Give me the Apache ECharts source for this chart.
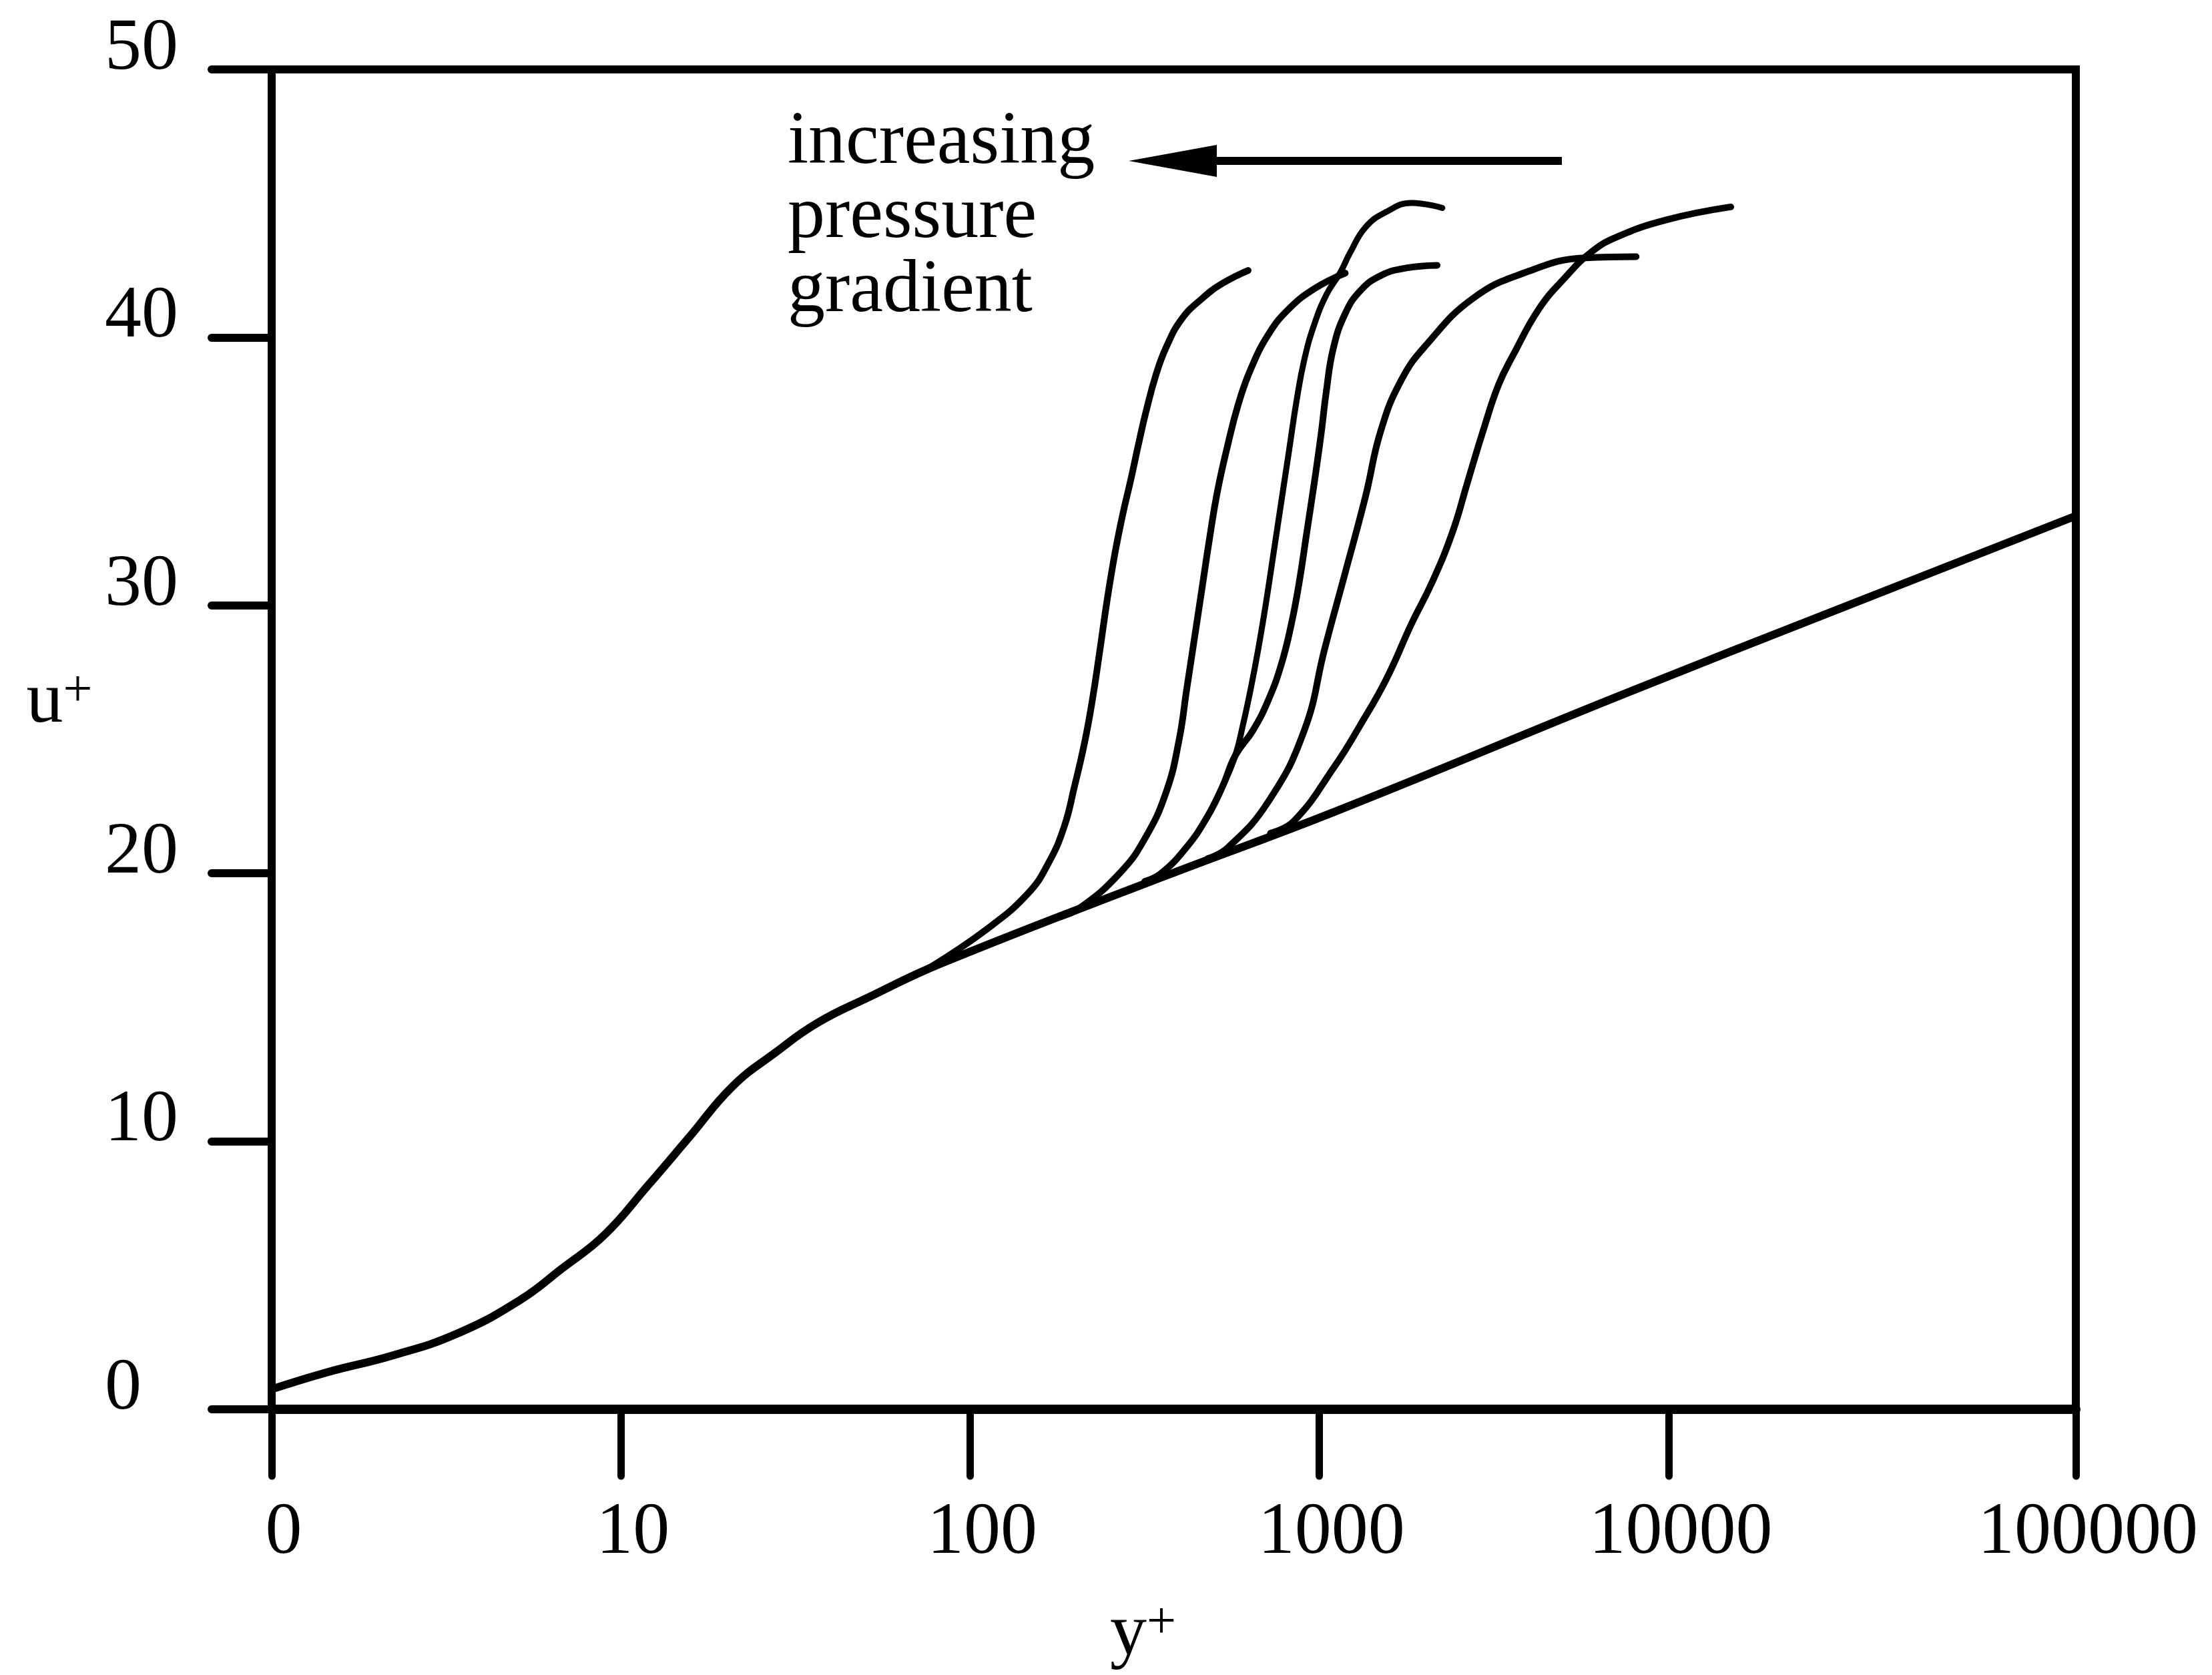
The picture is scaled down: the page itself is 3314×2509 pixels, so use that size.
<!DOCTYPE html>
<html>
<head>
<meta charset="utf-8">
<script src="https://cdn.jsdelivr.net/npm/echarts@6/dist/echarts.min.js"></script>
<style>
  html, body { margin: 0; padding: 0; background: #fff; }
  #chart { width: 3314px; height: 2509px; }
</style>
</head>
<body>
<div id="chart"></div>
<script>
// x values are positions in decades along the drawn log axis (tick "0" = 0, "10" = 1, ...)
const X_TICK_POS = [0, 1, 2, 3, 4, 5.166];
const X_TICK_LABELS = ['0', '10', '100', '1000', '10000', '100000'];
const Y_MIN = 0, Y_MAX = 50, Y_STEP = 10;

// law of the wall (viscous sublayer, buffer layer, log law)
const wallLaw = [[0,0.75],[0.161,1.39],[0.344,2.0],[0.527,2.8],[0.709,4.06],[0.831,5.25],[0.954,6.52],
  [1.076,8.33],[1.196,10.16],[1.319,12.04],[1.441,13.3],[1.563,14.42],[1.707,15.36],[1.919,16.65],
  [2.548,19.85],[3.044,22.3],[3.904,26.86],[5.166,33.34]];

// wake profiles, increasing pressure gradient from right to left
const curveA = [[1.88,16.45],[2.05,17.94],[2.167,19.27],[2.225,20.4],[2.269,21.73],[2.298,23.2],[2.328,24.9],
  [2.35,26.47],[2.372,28.37],[2.393,30.26],[2.415,31.97],[2.437,33.4],[2.459,34.63],[2.481,35.95],[2.503,37.2],
  [2.532,38.6],[2.562,39.65],[2.606,40.69],[2.664,41.45],[2.723,42.02],[2.796,42.5]];
const curveB = [[2.25,18.35],[2.313,18.7],[2.43,20.03],[2.503,21.36],[2.562,23.06],[2.598,24.96],[2.62,26.86],
  [2.642,28.75],[2.664,30.64],[2.686,32.54],[2.708,34.25],[2.737,35.95],[2.767,37.47],[2.803,38.8],[2.855,40.13],
  [2.913,41.07],[2.987,41.83],[3.074,42.4]];
const curveC = [[2.5,19.7],[2.547,20.0],[2.62,20.98],[2.679,22.11],[2.723,23.25],[2.759,24.39],[2.781,25.53],
  [2.803,26.86],[2.825,28.37],[2.847,30.08],[2.869,31.97],[2.891,33.87],[2.913,35.76],[2.935,37.66],[2.957,39.18],
  [2.986,40.51],[3.022,41.64],[3.059,42.4],[3.088,43.16],[3.132,44.11],[3.191,44.68],[3.264,45.02],[3.352,44.83]];
const curveD = [[2.5,19.7],[2.547,20.0],[2.62,20.98],[2.679,22.11],[2.723,23.25],[2.759,24.39],[2.81,25.34],
  [2.854,26.47],[2.891,27.8],[2.92,29.32],[2.942,30.84],[2.964,32.73],[2.986,34.63],[3.005,36.4],[3.02,38.0],
  [3.04,39.6],[3.074,40.89],[3.117,41.74],[3.176,42.31],[3.249,42.59],[3.337,42.69]];
const curveE = [[2.68,20.55],[2.737,20.95],[2.854,22.68],[2.957,25.34],[3.015,28.37],[3.074,31.22],[3.132,34.06],
  [3.176,36.52],[3.235,38.42],[3.308,39.75],[3.439,41.45],[3.585,42.4],[3.761,42.97],[3.907,43.01]];
const curveF = [[2.86,21.5],[2.927,21.95],[3.044,24.0],[3.117,25.53],[3.191,27.23],[3.264,29.32],[3.322,30.84],
  [3.381,32.73],[3.425,34.63],[3.469,36.52],[3.513,38.23],[3.556,39.37],[3.629,41.07],[3.702,42.21],[3.776,43.16],
  [3.849,43.73],[3.995,44.39],[4.178,44.87]];

const FONT = '"Liberation Serif", "Times New Roman", serif';
const INK = '#000';

function lineSeries(name, data, width) {
  return {
    name: name, type: 'line', data: data, symbol: 'none', smooth: 0.45,
    lineStyle: { color: INK, width: width, cap: 'round', join: 'round' },
    silent: true, clip: false, z: 3
  };
}

const chart = echarts.init(document.getElementById('chart'), null, { renderer: 'canvas' });
chart.setOption({
  animation: false,
  backgroundColor: '#fff',
  grid: { left: 407, right: 204, top: 104, bottom: 387, show: true,
          borderColor: INK, borderWidth: 12, backgroundColor: 'transparent', containLabel: false },
  xAxis: {
    type: 'value', min: X_TICK_POS[0], max: X_TICK_POS[X_TICK_POS.length - 1],
    axisLine: { show: true, onZero: false, lineStyle: { color: INK, width: 14 } },
    axisTick: { show: true, customValues: X_TICK_POS, length: 100, inside: false,
                lineStyle: { color: INK, width: 11, cap: 'round' } },
    axisLabel: {
      customValues: X_TICK_POS,
      formatter: function (v) {
        const i = X_TICK_POS.findIndex(p => Math.abs(p - v) < 1e-6);
        return i >= 0 ? X_TICK_LABELS[i] : '';
      },
      margin: 186, verticalAlign: 'middle', padding: [0, 0, 0, 36],
      fontSize: 110, fontFamily: FONT, color: INK
    },
    splitLine: { show: false },
    name: '{a|y}{b|+}', nameLocation: 'middle', nameGap: 338,
    nameTextStyle: {
      align: 'center', verticalAlign: 'middle', padding: [0, 92, 0, 0],
      rich: {
        a: { fontSize: 110, lineHeight: 110, fontFamily: FONT, color: INK },
        b: { fontSize: 78, lineHeight: 60, verticalAlign: 'top', fontFamily: FONT, color: INK }
      }
    }
  },
  yAxis: {
    type: 'value', min: Y_MIN, max: Y_MAX, interval: Y_STEP,
    axisLine: { show: true, onZero: false, lineStyle: { color: INK, width: 12 } },
    axisTick: { show: true, length: 90, inside: false, lineStyle: { color: INK, width: 12, cap: 'round' } },
    axisLabel: { align: 'left', margin: 250, verticalAlign: 'bottom', lineHeight: 60,
                 fontSize: 110, fontFamily: FONT, color: INK },
    splitLine: { show: false },
    name: '{a|u}{b|+}', nameLocation: 'middle', nameRotate: 0, nameGap: 318,
    nameTextStyle: {
      align: 'center', verticalAlign: 'bottom',
      rich: {
        a: { fontSize: 110, lineHeight: 110, fontFamily: FONT, color: INK },
        b: { fontSize: 78, lineHeight: 60, verticalAlign: 'top', fontFamily: FONT, color: INK }
      }
    }
  },
  series: [
    lineSeries('law of the wall', wallLaw, 12),
    lineSeries('A', curveA, 10),
    lineSeries('B', curveB, 10),
    lineSeries('C', curveC, 9),
    lineSeries('D', curveD, 10),
    lineSeries('E', curveE, 10),
    lineSeries('F', curveF, 10)
  ],
  graphic: [
    { type: 'text', x: 1180, y: 159, z: 10,
      style: { text: 'increasing\npressure\ngradient', font: '112px ' + FONT, lineHeight: 111,
               fill: INK, align: 'left', verticalAlign: 'top' } },
    { type: 'line', z: 10, shape: { x1: 1800, y1: 241, x2: 2340, y2: 241 },
      style: { stroke: INK, lineWidth: 12 } },
    { type: 'polygon', z: 10, shape: { points: [[1691, 241], [1823, 217], [1823, 265]] },
      style: { fill: INK } }
  ]
});
</script>
</body>
</html>
